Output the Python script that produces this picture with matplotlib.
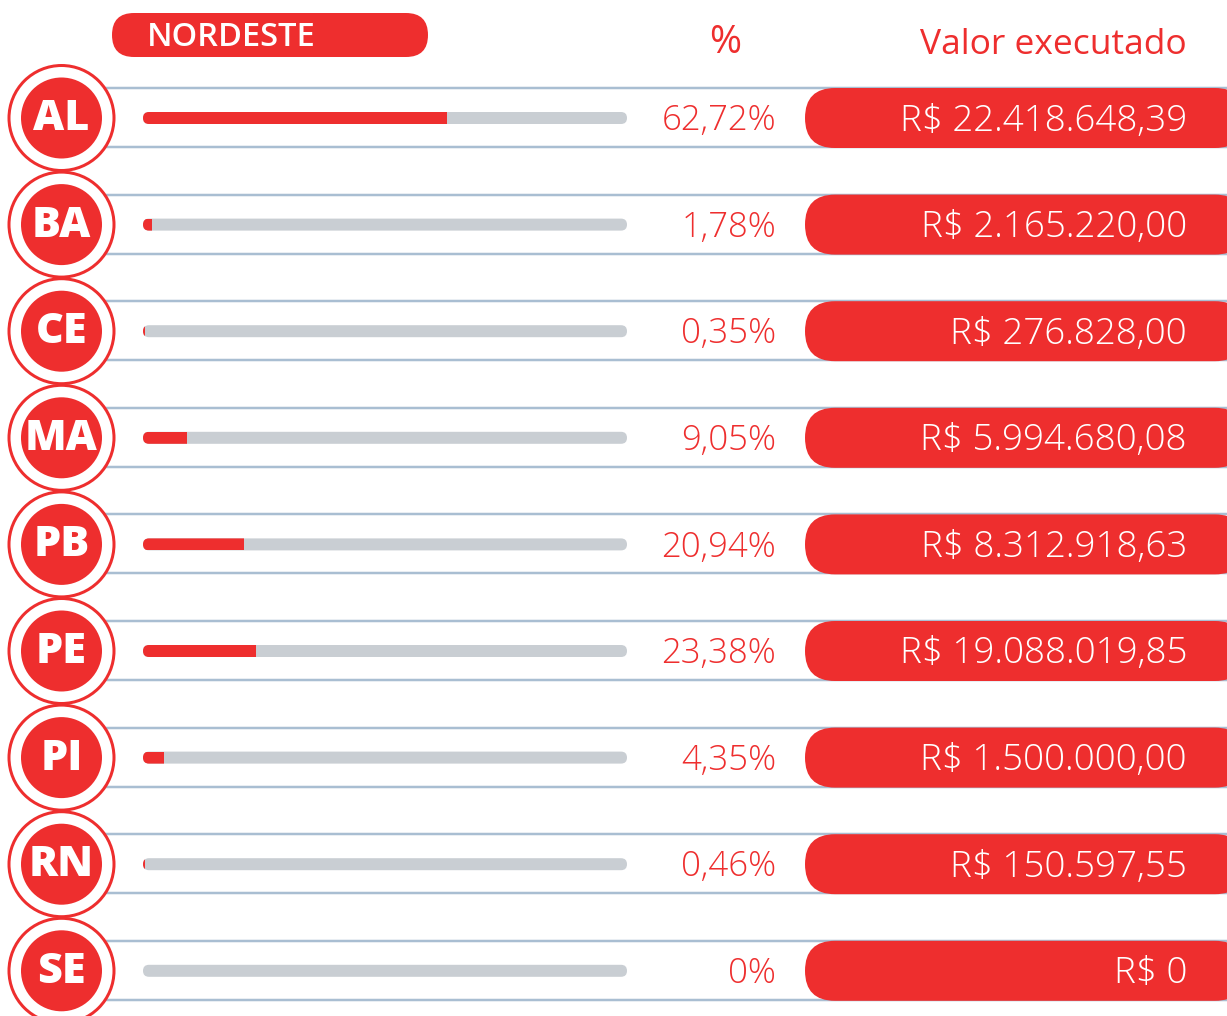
import matplotlib
matplotlib.use("Agg")
import matplotlib.pyplot as plt
from matplotlib.patches import FancyBboxPatch, Circle, Rectangle

states = ['AL', 'BA', 'CE', 'MA', 'PB', 'PE', 'PI', 'RN', 'SE']
pct = [62.72, 1.78, 0.35, 9.05, 20.94, 23.38, 4.35, 0.46, 0.0]
valores = [22418648.39, 2165220.00, 276828.00, 5994680.08, 8312918.63,
           19088019.85, 1500000.00, 150597.55, 0.0]
region = 'NORDESTE'
col_pct = '%'
col_val = 'Valor executado'

RED = '#EE2E2E'
GREY = '#C9CED3'
LINE = '#A9BED2'
NUMFONT = 'Open Sans'


def fmt_brl(v):
    if v == 0:
        return 'R$ 0'
    s = f"{v:,.2f}"
    s = s.replace(',', 'X').replace('.', ',').replace('X', '.')
    return 'R$ ' + s


def fmt_pct(p):
    if p == 0:
        return '0%'
    return f"{p:.2f}".replace('.', ',') + '%'


W, H = 1227, 1016
fig = plt.figure(figsize=(W / 100, H / 100), dpi=100)
ax = fig.add_axes([0, 0, 1, 1])
ax.set_xlim(0, W)
ax.set_ylim(H, 0)
ax.axis('off')

PT = 72 / 100  # points per pixel

# header
hdr = FancyBboxPatch((112, 13), 316, 44, boxstyle="round,pad=0,rounding_size=22",
                     fc=RED, ec='none', zorder=2)
ax.add_patch(hdr)
ax.text(147, 37, region, color='white', fontsize=23.5, family='Open Sans',
        weight='semibold', va='center', ha='left', zorder=3)
ax.text(725, 43, col_pct, color=RED, fontsize=28, family=NUMFONT,
        va='center', ha='center')
ax.text(1187, 45, col_val, color=RED, fontsize=25.5, family=NUMFONT,
        va='center', ha='right')

y0 = 118
dy = 106.6
bx0, bx1, bh = 143, 627, 12
for i, (st, p, v) in enumerate(zip(states, pct, valores)):
    yc = y0 + i * dy
    # row lines
    ax.plot([60, W], [yc - 30, yc - 30], color=LINE, lw=2.5 * PT, zorder=1,
            solid_capstyle='butt')
    ax.plot([60, W], [yc + 29, yc + 29], color=LINE, lw=2.5 * PT, zorder=1,
            solid_capstyle='butt')
    # circles
    ax.add_patch(Circle((61.5, yc), 52.5, fc='white', ec=RED, lw=3 * PT, zorder=4))
    ax.add_patch(Circle((61.5, yc), 40.5, fc=RED, ec='none', zorder=5))
    ax.text(61.5, yc + 1, st, color='white', fontsize=31, family='Open Sans',
            weight='heavy', va='center', ha='center', zorder=6)
    # bar
    bg = FancyBboxPatch((bx0, yc - bh / 2), bx1 - bx0, bh,
                        boxstyle=f"round,pad=0,rounding_size={bh / 2}",
                        fc=GREY, ec='none', zorder=2)
    ax.add_patch(bg)
    if p > 0:
        fg = Rectangle((bx0, yc - bh / 2), (bx1 - bx0) * p / 100, bh,
                       fc=RED, ec='none', zorder=3)
        ax.add_patch(fg)
        fg.set_clip_path(bg)
    # pct text
    ax.text(776, yc + 3, fmt_pct(p), color=RED, fontsize=25, family=NUMFONT,
            weight='light', va='center', ha='right', zorder=3)
    # value pill
    pill = FancyBboxPatch((805, yc - 30), 440, 60,
                          boxstyle="round,pad=0,rounding_size=30",
                          fc=RED, ec='none', zorder=2)
    ax.add_patch(pill)
    ax.text(1187, yc + 3, fmt_brl(v), color='white', fontsize=26.5, family=NUMFONT,
            weight='light', va='center', ha='right', zorder=3)

fig.savefig('out.png', dpi=100, facecolor='white')
